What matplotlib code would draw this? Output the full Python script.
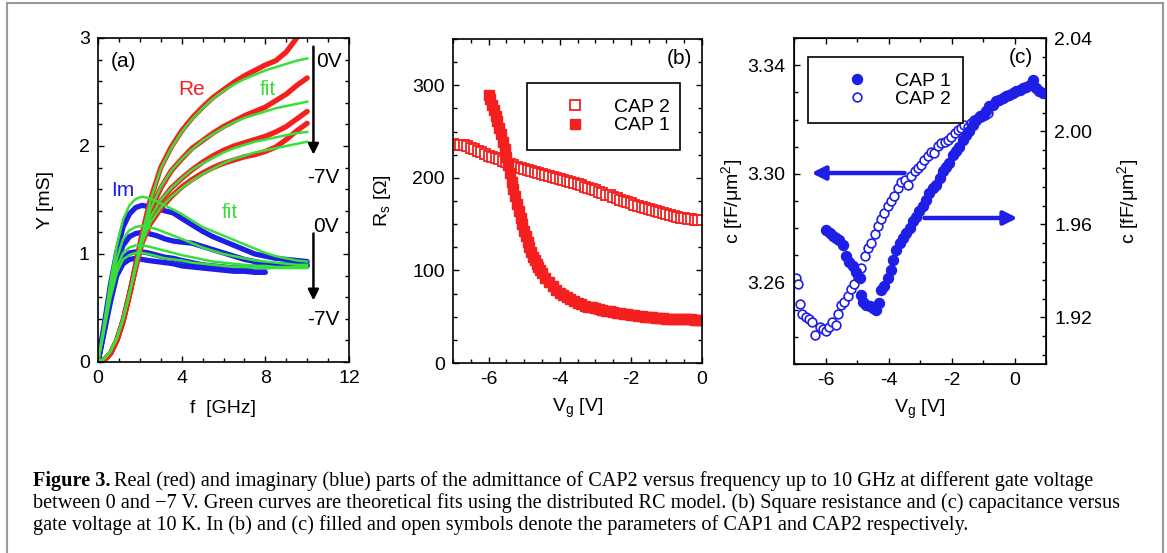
import numpy as np
import matplotlib
matplotlib.use("Agg")
import matplotlib.pyplot as plt
from matplotlib.lines import Line2D
from matplotlib.patches import Rectangle
from matplotlib.ticker import MultipleLocator, FixedLocator

plt.rcParams['font.family'] = ['Liberation Sans', 'DejaVu Sans']
plt.rcParams['mathtext.default'] = 'regular'
plt.rcParams['axes.unicode_minus'] = False

RED = '#f41f1f'
BLUE = '#1e1ee6'
GREEN = '#39df39'

# ---- panel (a): admittance vs frequency, 0V ... -7V ----
f_re = [0, 0.3, 0.6, 0.9, 1.2, 1.5, 1.8, 2.1, 2.5, 3.0, 3.5, 4.0, 4.5, 5.0, 5.5, 6.0,
        6.5, 7.0, 7.5, 8.0, 8.5, 9.0, 9.5, 10.0]
re_0 = [0, 0.02, 0.08, 0.2, 0.38, 0.62, 0.9, 1.18, 1.50, 1.80, 1.99, 2.14, 2.26, 2.36, 2.45, 2.52,
        2.59, 2.65, 2.70, 2.75, 2.79, 2.87, 3.00, 3.10]
re_1 = [0, 0.02, 0.08, 0.2, 0.38, 0.62, 0.89, 1.15, 1.40, 1.61, 1.77, 1.88, 1.98, 2.05, 2.12, 2.18,
        2.23, 2.28, 2.32, 2.36, 2.42, 2.48, 2.56, 2.63]
re_2 = [0, 0.02, 0.08, 0.2, 0.38, 0.62, 0.88, 1.12, 1.33, 1.49, 1.61, 1.70, 1.78, 1.85, 1.91, 1.96,
        2.00, 2.03, 2.06, 2.09, 2.13, 2.18, 2.25, 2.32]
re_3 = [0, 0.02, 0.08, 0.2, 0.38, 0.62, 0.87, 1.10, 1.28, 1.42, 1.53, 1.62, 1.69, 1.75, 1.80, 1.84,
        1.87, 1.90, 1.92, 1.95, 1.99, 2.06, 2.14, 2.21]
fit_re_0 = [0, 0.03, 0.1, 0.22, 0.4, 0.63, 0.9, 1.17, 1.49, 1.79, 1.98, 2.13, 2.25, 2.35, 2.44, 2.51,
            2.57, 2.62, 2.66, 2.70, 2.73, 2.76, 2.79, 2.81]
fit_re_1 = [0, 0.03, 0.1, 0.22, 0.4, 0.63, 0.89, 1.14, 1.41, 1.62, 1.77, 1.88, 1.97, 2.05, 2.11, 2.17,
            2.22, 2.26, 2.29, 2.32, 2.35, 2.37, 2.39, 2.41]
fit_re_2 = [0, 0.03, 0.1, 0.22, 0.4, 0.63, 0.88, 1.12, 1.34, 1.50, 1.61, 1.70, 1.78, 1.84, 1.89, 1.94,
            1.98, 2.01, 2.04, 2.06, 2.08, 2.10, 2.12, 2.13]
fit_re_3 = [0, 0.03, 0.1, 0.22, 0.4, 0.63, 0.87, 1.10, 1.29, 1.43, 1.53, 1.61, 1.68, 1.74, 1.79, 1.84,
            1.88, 1.91, 1.94, 1.96, 1.98, 2.00, 2.02, 2.04]

f_im = [0, 0.3, 0.6, 0.9, 1.2, 1.5, 1.8, 2.1, 2.4, 2.8, 3.2, 3.6, 4.0, 4.5, 5.0, 5.5, 6.0,
        6.5, 7.0, 7.5, 8.0, 8.5, 9.0, 9.5, 10.0]
im_0 = [0, 0.35, 0.72, 1.02, 1.25, 1.37, 1.43, 1.45, 1.44, 1.42, 1.40, 1.38, 1.33, 1.27, 1.21, 1.16, 1.12,
        1.08, 1.04, 1.00, 0.98, 0.96, 0.95, 0.94, 0.93]
im_1 = [0, 0.32, 0.65, 0.92, 1.08, 1.16, 1.19, 1.20, 1.19, 1.17, 1.14, 1.12, 1.11, 1.10, 1.07, 1.04, 1.01,
        0.98, 0.95, 0.93, 0.91, 0.90, 0.90, 0.91, 0.90]
im_2 = [0, 0.30, 0.60, 0.84, 0.96, 1.01, 1.02, 1.02, 1.01, 0.99, 0.97, 0.96, 0.94, 0.92, 0.90, 0.89, 0.88,
        0.87, 0.87, 0.88, 0.88, 0.89, 0.89, 0.89, 0.89]
im_3 = [0, 0.28, 0.56, 0.80, 0.91, 0.95, 0.96, 0.95, 0.94, 0.93, 0.92, 0.91, 0.89, 0.88, 0.87, 0.86, 0.85,
        0.84, 0.84, 0.83, 0.83]
fit_im_0 = [0, 0.37, 0.75, 1.08, 1.32, 1.45, 1.51, 1.53, 1.52, 1.49, 1.45, 1.41, 1.37, 1.31, 1.25, 1.21, 1.17,
            1.13, 1.09, 1.05, 1.01, 0.98, 0.96, 0.94, 0.93]
fit_im_1 = [0, 0.34, 0.68, 0.96, 1.14, 1.22, 1.25, 1.26, 1.25, 1.23, 1.20, 1.17, 1.14, 1.10, 1.06, 1.03, 1.00,
            0.98, 0.96, 0.94, 0.93, 0.92, 0.91, 0.90, 0.90]
fit_im_2 = [0, 0.32, 0.64, 0.88, 1.01, 1.06, 1.08, 1.08, 1.07, 1.05, 1.03, 1.01, 0.99, 0.97, 0.95, 0.93, 0.92,
            0.91, 0.90, 0.89, 0.89, 0.88, 0.88, 0.88, 0.88]
fit_im_3 = [0, 0.30, 0.60, 0.83, 0.95, 0.99, 1.01, 1.01, 1.00, 0.98, 0.96, 0.95, 0.94, 0.92, 0.91, 0.90, 0.89,
            0.88, 0.88, 0.87, 0.87, 0.87, 0.87, 0.87, 0.87]

# ---- panel (b): square resistance vs gate voltage ----
vg_cap2_b = [-7.0, -6.9, -6.8, -6.7, -6.6, -6.5, -6.4, -6.3, -6.2, -6.1, -6.0, -5.9, -5.8, -5.7, -5.6,
             -5.5, -5.4, -5.3, -5.2, -5.1, -5.0, -4.9, -4.8, -4.7, -4.6, -4.5, -4.4, -4.3, -4.2, -4.1,
             -4.0, -3.9, -3.8, -3.7, -3.6, -3.5, -3.4, -3.3, -3.2, -3.1, -3.0, -2.9, -2.8, -2.7, -2.6,
             -2.5, -2.4, -2.3, -2.2, -2.1, -2.0, -1.9, -1.8, -1.7, -1.6, -1.5, -1.4, -1.3, -1.2, -1.1,
             -1.0, -0.9, -0.8, -0.7, -0.6, -0.5, -0.4, -0.3, -0.2, -0.1, 0.0]
rs_cap2 = [237, 236, 236, 235, 234, 232, 231, 229, 228, 226, 224, 223, 221, 220, 218,
           217, 215, 214, 212, 211, 210, 208, 207, 206, 205, 204, 203, 202, 201, 200,
           199, 198, 197, 195, 194, 193, 192, 190, 189, 188, 187, 185, 184, 182, 181,
           179, 178, 176, 175, 174, 173, 171, 170, 168, 167, 166, 165, 164, 163, 162,
           161, 160, 159, 158, 157, 157, 156, 156, 155, 155, 154]
vg_cap1_b = [-6.0, -5.95, -5.9, -5.85, -5.8, -5.75, -5.7, -5.65, -5.6, -5.55, -5.5, -5.45, -5.4, -5.35,
             -5.3, -5.25, -5.2, -5.15, -5.1, -5.05, -5.0, -4.95, -4.9, -4.85, -4.8, -4.75, -4.7, -4.65,
             -4.6, -4.55, -4.5, -4.4, -4.3, -4.2, -4.1, -4.0, -3.9, -3.8, -3.7, -3.6, -3.5, -3.4, -3.3,
             -3.2, -3.1, -3.0, -2.9, -2.8, -2.7, -2.6, -2.5, -2.4, -2.3, -2.2, -2.1, -2.0, -1.9, -1.8,
             -1.7, -1.6, -1.5, -1.4, -1.3, -1.2, -1.1, -1.0, -0.9, -0.8, -0.7, -0.6, -0.5, -0.4, -0.3,
             -0.2, -0.1, 0.0]
rs_cap1 = [290, 285, 279, 273, 267, 261, 254, 247, 239, 231, 222, 214, 205, 196,
           188, 180, 172, 164, 157, 150, 143, 137, 131, 125, 120, 115, 111, 107,
           104, 100, 97, 92, 87, 83, 79, 76, 73, 71, 69, 67, 65, 64, 62,
           61, 60, 59, 58, 57, 56, 56, 55, 54, 54, 53, 53, 52, 52, 51,
           51, 50, 50, 50, 49, 49, 49, 48, 48, 48, 47, 47, 47, 47, 47,
           46, 46, 46]

# ---- panel (c): capacitance vs gate voltage (CAP2 left axis, CAP1 right axis) ----
vg_cap2_c = [-6.93, -6.88, -6.80, -6.74, -6.63, -6.53, -6.42, -6.32, -6.19, -6.08, -6.00, -5.89, -5.79,
             -5.66, -5.61, -5.50, -5.40, -5.29, -5.19, -5.08, -4.97, -4.87, -4.76, -4.66, -4.55, -4.44,
             -4.34, -4.23, -4.13, -4.02, -3.92, -3.81, -3.70, -3.60, -3.49, -3.39, -3.28, -3.17, -3.07,
             -2.96, -2.86, -2.75, -2.65, -2.54, -2.43, -2.33, -2.22, -2.12, -2.01, -1.90, -1.80, -1.69,
             -1.59, -1.48, -1.38, -1.27, -1.16, -1.06, -0.95, -0.85]
c_cap2 = [3.2615, 3.2594, 3.2521, 3.2484, 3.2472, 3.2466, 3.2454, 3.2407, 3.2435, 3.2429, 3.2423, 3.2435,
          3.2454, 3.2445, 3.2484, 3.2517, 3.2527, 3.2551, 3.2576, 3.2594, 3.2619, 3.2655, 3.2698, 3.2728,
          3.2747, 3.2777, 3.2808, 3.2832, 3.2857, 3.2881, 3.2899, 3.2918, 3.2948, 3.2969, 3.2979, 3.2960,
          3.2991, 3.3009, 3.3021, 3.3034, 3.3052, 3.3064, 3.3082, 3.3076, 3.3101, 3.3113, 3.3119, 3.3125,
          3.3137, 3.3150, 3.3162, 3.3168, 3.3180, 3.3174, 3.3186, 3.3199, 3.3205, 3.3211, 3.3217, 3.3223]
vg_cap1_c = [-5.98, -5.87, -5.77, -5.66, -5.56, -5.45, -5.35, -5.24, -5.13, -5.03, -4.92, -4.87, -4.81,
             -4.71, -4.60, -4.50, -4.39, -4.31, -4.23, -4.13, -4.02, -3.92, -3.86, -3.76, -3.65, -3.55,
             -3.44, -3.33, -3.23, -3.12, -3.02, -2.91, -2.80, -2.70, -2.59, -2.49, -2.38, -2.28, -2.17,
             -2.07, -1.96, -1.85, -1.75, -1.64, -1.54, -1.43, -1.33, -1.22, -1.11, -1.01, -0.90, -0.80,
             -0.69, -0.58, -0.48, -0.37, -0.26, -0.16, -0.05, 0.05, 0.16, 0.26, 0.37, 0.48, 0.58, 0.69,
             0.79, 0.90]
c_cap1 = [1.9576, 1.9562, 1.9548, 1.9541, 1.9533, 1.9512, 1.9462, 1.9440, 1.9419, 1.9397, 1.9369, 1.9297,
          1.9268, 1.9254, 1.9247, 1.9240, 1.9233, 1.9261, 1.9319, 1.9333, 1.9369, 1.9405, 1.9448, 1.9490,
          1.9519, 1.9541, 1.9562, 1.9584, 1.9612, 1.9633, 1.9655, 1.9677, 1.9705, 1.9734, 1.9756, 1.9770,
          1.9798, 1.9827, 1.9848, 1.9863, 1.9899, 1.9913, 1.9934, 1.9963, 1.9985, 1.9999, 2.0027, 2.0049,
          2.0063, 2.0070, 2.0085, 2.0106, 2.0113, 2.0128, 2.0135, 2.0142, 2.0149, 2.0156, 2.0164, 2.0171,
          2.0178, 2.0185, 2.0189, 2.0199, 2.0221, 2.0185, 2.0171, 2.0164]
c_left_ticks = [3.26, 3.30, 3.34]

caption_1 = "Real (red) and imaginary (blue) parts of the admittance of CAP2 versus frequency up to 10 GHz at different gate voltage"
caption_2 = "between 0 and \u22127 V. Green curves are theoretical fits using the distributed RC model. (b) Square resistance and (c) capacitance versus"
caption_3 = "gate voltage at 10 K. In (b) and (c) filled and open symbols denote the parameters of CAP1 and CAP2 respectively."

FS = 14

W, H = 1167, 553
fig = plt.figure(figsize=(W / 100, H / 100), dpi=100)


def px_axes(l, t, r, b):
    return fig.add_axes([l / W, 1 - b / H, (r - l) / W, (b - t) / H])


def style(ax, right=True):
    ax.tick_params(which='both', direction='in', top=True, right=right, labelsize=FS, pad=6)
    ax.tick_params(which='major', length=4.5, width=1)
    ax.tick_params(which='minor', length=3, width=1)
    for s in ax.spines.values():
        s.set_linewidth(1.2)


# (a)
ax_a = px_axes(98, 38, 349, 362)
for y in (im_0, im_1, im_2, im_3):
    ax_a.plot(f_im[:len(y)], y, color=BLUE, lw=3.8, solid_capstyle='round')
for y in (re_0, re_1, re_2, re_3):
    ax_a.plot(f_re, y, color=RED, lw=3.8, solid_capstyle='round')
for y in (fit_im_0, fit_im_1, fit_im_2, fit_im_3):
    ax_a.plot(f_im, y, color=GREEN, lw=1.8)
for y in (fit_re_0, fit_re_1, fit_re_2, fit_re_3):
    ax_a.plot(f_re, y, color=GREEN, lw=1.8)
ax_a.set_xlim(0, 12)
ax_a.set_ylim(0, 3)
ax_a.xaxis.set_major_locator(MultipleLocator(4))
ax_a.xaxis.set_minor_locator(MultipleLocator(1))
ax_a.yaxis.set_major_locator(MultipleLocator(1))
ax_a.yaxis.set_minor_locator(MultipleLocator(0.2))
style(ax_a)
ax_a.set_xlabel('f  [GHz]', fontsize=FS, labelpad=9)
ax_a.set_ylabel('Y [mS]', fontsize=FS, labelpad=18)
ax_a.text(1.2, 2.78, '(a)', fontsize=15, ha='center', va='center')
ax_a.text(4.5, 2.52, 'Re', color=RED, fontsize=15, ha='center', va='center')
ax_a.text(8.1, 2.52, 'fit', color=GREEN, fontsize=15, ha='center', va='center')
ax_a.text(1.2, 1.59, 'Im', color=BLUE, fontsize=15, ha='center', va='center')
ax_a.text(6.3, 1.38, 'fit', color=GREEN, fontsize=15, ha='center', va='center')
arrow_k = dict(arrowstyle='-|>', color='k', lw=1.8, mutation_scale=16, shrinkA=0, shrinkB=0)
ax_a.annotate('', xy=(10.3, 1.92), xytext=(10.3, 2.92), arrowprops=arrow_k)
ax_a.annotate('', xy=(10.3, 0.57), xytext=(10.3, 1.19), arrowprops=arrow_k)
ax_a.text(11.05, 2.78, '0V', fontsize=15, ha='center', va='center')
ax_a.text(10.75, 1.71, '-7V', fontsize=15, ha='center', va='center')
ax_a.text(10.9, 1.25, '0V', fontsize=15, ha='center', va='center')
ax_a.text(10.75, 0.39, '-7V', fontsize=15, ha='center', va='center')

# (b)
ax_b = px_axes(453, 39, 702, 363)
ax_b.plot(vg_cap2_b, rs_cap2, ls='none', marker='s', ms=6.5, mfc='white', mec=RED, mew=1.3,
          label='CAP 2')
ax_b.plot(vg_cap1_b, rs_cap1, ls='none', marker='s', ms=7.2, mfc=RED, mec=RED, label='CAP 1')
ax_b.set_xlim(-7, 0)
ax_b.set_ylim(0, 350)
ax_b.xaxis.set_major_locator(MultipleLocator(2))
ax_b.xaxis.set_minor_locator(MultipleLocator(0.5))
ax_b.yaxis.set_major_locator(MultipleLocator(100))
ax_b.yaxis.set_minor_locator(MultipleLocator(25))
style(ax_b)
ax_b.set_xlabel('V$_g$ [V]', fontsize=FS, labelpad=6)
ax_b.set_ylabel('R$_s$ [\u03a9]', fontsize=FS, labelpad=14)
ax_b.text(0.91, 0.94, '(b)', transform=ax_b.transAxes, fontsize=15, ha='center', va='center')
leg_kw = dict(fontsize=FS, loc='center', mode='expand', fancybox=False, edgecolor='k',
              framealpha=1, borderpad=0.78, labelspacing=0.05, handlelength=3.4, handletextpad=0.3,
              borderaxespad=0, numpoints=1)
lb = ax_b.legend(bbox_to_anchor=(0.296, 0.655, 0.616, 0.213), **leg_kw)
lb.get_frame().set_linewidth(1.2)

# (c)
ax_c = px_axes(794, 38, 1046, 364)
ax_c2 = ax_c.twinx()
ax_c.plot(vg_cap2_c, c_cap2, ls='none', marker='o', ms=6.3, mfc='white', mec=BLUE, mew=1.2)
ax_c2.plot(vg_cap1_c, c_cap1, ls='none', marker='o', ms=7.2, mfc=BLUE, mec=BLUE)
ax_c.set_xlim(-7, 1)
ax_c.set_ylim(3.23, 3.35)
ax_c2.set_ylim(1.90, 2.04)
ax_c.xaxis.set_major_locator(MultipleLocator(2))
ax_c.xaxis.set_minor_locator(MultipleLocator(1))
ax_c.yaxis.set_major_locator(FixedLocator(c_left_ticks))
ax_c.yaxis.set_minor_locator(MultipleLocator(0.01))
ax_c2.yaxis.set_major_locator(MultipleLocator(0.04))
ax_c2.yaxis.set_minor_locator(MultipleLocator(0.008))
ax_c.yaxis.set_major_formatter(lambda v, p: f'{v:.2f}')
ax_c2.yaxis.set_major_formatter(lambda v, p: f'{v:.2f}')
style(ax_c, right=False)
ax_c2.tick_params(which='both', direction='in', left=False, right=True, labelsize=FS, pad=6)
ax_c2.tick_params(which='major', length=4.5, width=1)
ax_c2.tick_params(which='minor', length=3, width=1)
ax_c.set_xlabel('V$_g$ [V]', fontsize=FS, labelpad=6)
ax_c.set_ylabel('c [fF/\u03bcm$^2$]', fontsize=FS, labelpad=2)
ax_c2.set_ylabel('c [fF/\u03bcm$^2$]', fontsize=FS, labelpad=16)
ax_c2.text(0.9, 0.94, '(c)', transform=ax_c2.transAxes, fontsize=15, ha='center', va='center')
arrow_b = dict(arrowstyle='-|>', color=BLUE, lw=3.2, mutation_scale=20, shrinkA=0, shrinkB=0)
ax_c.annotate('', xy=(-6.45, 3.3003), xytext=(-3.49, 3.3003), arrowprops=arrow_b)
ax_c2.annotate('', xy=(0.10, 1.9627), xytext=(-2.86, 1.9627), arrowprops=arrow_b)
handles = [Line2D([], [], ls='none', marker='o', ms=7.2, mfc=BLUE, mec=BLUE),
           Line2D([], [], ls='none', marker='o', ms=6.3, mfc='white', mec=BLUE, mew=1.2)]
lc = ax_c2.legend(handles, ['CAP 1', 'CAP 2'], bbox_to_anchor=(0.057, 0.733, 0.615, 0.215), **leg_kw)
lc.get_frame().set_linewidth(1.2)

# caption and frame
fig.patches.append(Rectangle((7 / W, -0.02), 1156 / W, 1.02 - 3 / H, transform=fig.transFigure,
                             fill=False, edgecolor='#9a9a9a', lw=1.5))
cap_kw = dict(family='Liberation Serif', fontsize=14.6, va='baseline')
r = fig.canvas.get_renderer()
t0 = fig.text(33 / W, 1 - 486 / H, 'Figure 3.', weight='bold', **cap_kw)
x1 = t0.get_window_extent(r).x1 / W + 4 / W
fig.text(x1, 1 - 486 / H, caption_1, **cap_kw)
fig.text(33 / W, 1 - 508 / H, caption_2, **cap_kw)
fig.text(33 / W, 1 - 530 / H, caption_3, **cap_kw)

fig.savefig('out.png', dpi=100)
